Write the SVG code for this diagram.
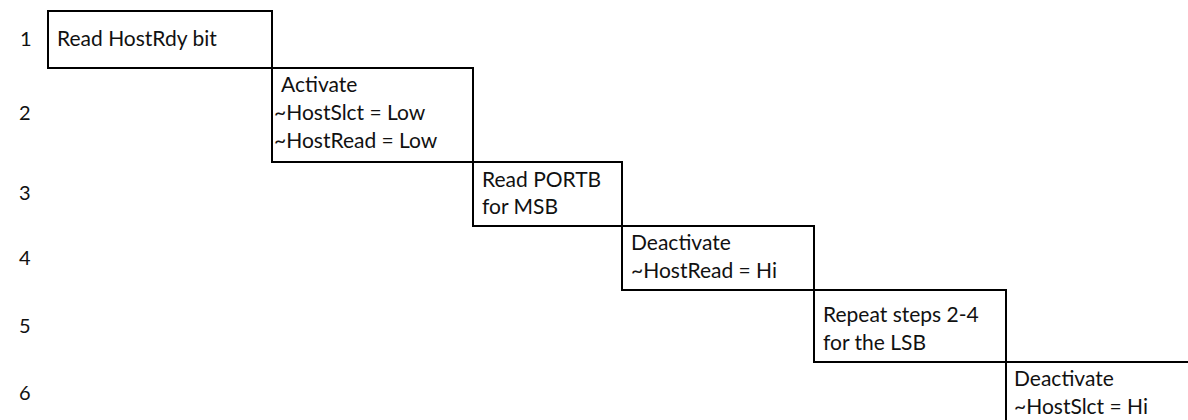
<svg xmlns="http://www.w3.org/2000/svg" width="1188" height="420" viewBox="0 0 1188 420">
<style>
.box{fill:none;stroke:#000;stroke-width:2}
text{font-family:Lato,"Open Sans","Liberation Sans",sans-serif;font-size:21px;fill:#111}
.num{font-size:20px}
</style>
<rect width="1188" height="420" fill="#fff"/>
<g id="labels">
<text class="num" x="20" y="46">1</text>
<text class="num" x="19" y="120">2</text>
<text class="num" x="19" y="200">3</text>
<text class="num" x="19" y="265">4</text>
<text class="num" x="19" y="333">5</text>
<text class="num" x="19" y="400">6</text>
</g>
<g id="step1"><rect class="box" x="48" y="11" width="224" height="57"/><text x="57" y="46">Read HostRdy bit</text></g>
<g id="step2"><rect class="box" x="272" y="68" width="201" height="94"/><text x="281" y="92">Activate</text><text x="274" y="120">~HostSlct = Low</text><text x="274" y="148">~HostRead = Low</text></g>
<g id="step3"><rect class="box" x="473" y="162" width="149" height="64"/><text x="482" y="187">Read PORTB</text><text x="482" y="214">for MSB</text></g>
<g id="step4"><rect class="box" x="622" y="226" width="192" height="64"/><text x="631" y="250">Deactivate</text><text x="631" y="278">~HostRead = Hi</text></g>
<g id="step5"><rect class="box" x="814" y="290" width="192" height="72"/><text x="823" y="322">Repeat steps 2-4</text><text x="823" y="350">for the LSB</text></g>
<g id="step6"><path class="box" d="M1006 421 V362 H1189"/><text x="1014" y="386">Deactivate</text><text x="1014" y="414">~HostSlct = Hi</text></g>
<g id="connectors"></g>
</svg>
